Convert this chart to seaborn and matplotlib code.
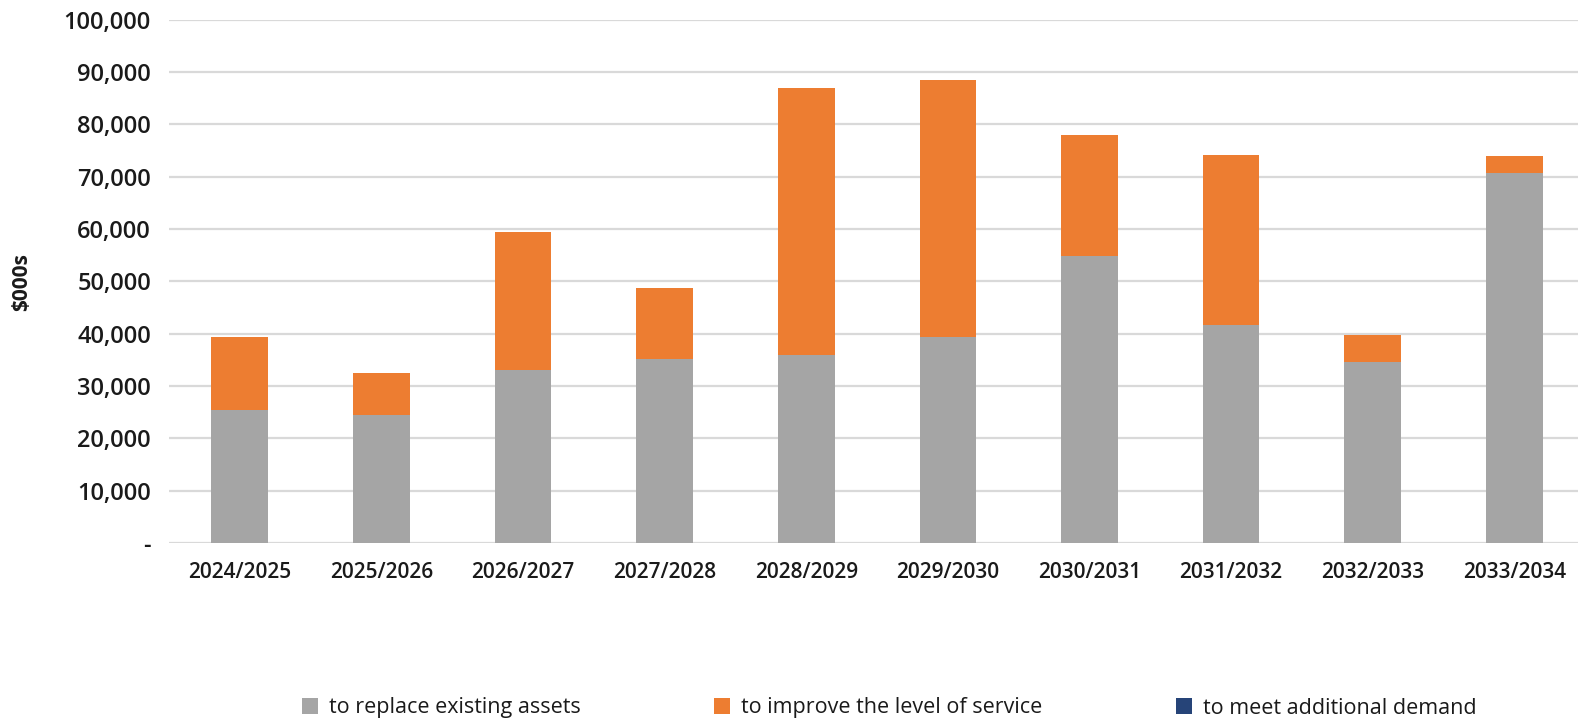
import matplotlib
matplotlib.use("Agg")
import matplotlib.pyplot as plt
from matplotlib.patches import Patch
from matplotlib.ticker import FuncFormatter
import numpy as np
import pandas as pd
import seaborn as sns

# Capital expenditure by year, $000s
years = ["2024/2025", "2025/2026", "2026/2027", "2027/2028", "2028/2029",
         "2029/2030", "2030/2031", "2031/2032", "2032/2033", "2033/2034"]
replace_assets = [25500, 24400, 33000, 35100, 36000, 39300, 54900, 41600, 34500, 70700]
improve_service = [13800, 8000, 26500, 13600, 51000, 49200, 23000, 32500, 5300, 3200]
additional_demand = [0, 0, 0, 0, 0, 0, 0, 0, 0, 0]

series_names = ["to replace existing assets", "to improve the level of service",
                "to meet additional demand"]
colors = ["#a5a5a5", "#ed7d31", "#264478"]

sns.set_theme(style="white")
plt.rcParams["font.family"] = ["Open Sans", "DejaVu Sans"]

df = pd.DataFrame({
    "year": years,
    "replace": replace_assets,
    "improve": improve_service,
    "demand": additional_demand,
})
df["lvl1"] = df["replace"]
df["lvl2"] = df["lvl1"] + df["improve"]
df["lvl3"] = df["lvl2"] + df["demand"]

W, H = 1578, 726
fig = plt.figure(figsize=(W / 100, H / 100), dpi=100)
ax = fig.add_axes([169 / W, 1 - 543 / H, (W - 169) / W, (543 - 19.5) / H])

# Stacked bars: draw cumulative heights from the top segment down
for col, color in zip(["lvl3", "lvl2", "lvl1"], colors[::-1]):
    sns.barplot(data=df, x="year", y=col, color=color, width=0.4,
                saturation=1, ax=ax, zorder=3, linewidth=0)

ax.set_ylim(0, 100000)
ax.set_yticks(np.arange(0, 100001, 10000))
ax.yaxis.set_major_formatter(FuncFormatter(lambda v, _: "-" if v == 0 else f"{int(v):,}"))
ax.grid(axis="y", color="#d9d9d9", linewidth=1.6, zorder=0)
ax.grid(axis="x", visible=False)
for s in ax.spines.values():
    s.set_visible(False)
ax.tick_params(axis="y", length=0, pad=13, labelsize=17, labelcolor="#1a1a1a")
ax.tick_params(axis="x", length=0, pad=14, labelsize=15, labelcolor="#1a1a1a")
for lbl in ax.get_yticklabels():
    lbl.set_fontweight("semibold")
for lbl in ax.get_xticklabels():
    lbl.set_fontweight("semibold")
ax.set_xlim(-0.5, 9.45)
ax.set_xlabel("")
ax.set_ylabel("")
fig.text(22 / W, 1 - 282 / H, "$000s", rotation=90, ha="center", va="center",
         fontsize=15, fontweight="bold", color="#1a1a1a")

handles = [Patch(facecolor=c, edgecolor="none") for c in colors]
fig.legend(handles, series_names, loc="center", bbox_to_anchor=(889 / W, 1 - 708 / H),
           ncol=3, frameon=False, fontsize=15.5, handlelength=0.75, handleheight=0.75,
           handletextpad=0.5, columnspacing=6.2, labelcolor="#1a1a1a")

fig.savefig("out.png", dpi=100)
